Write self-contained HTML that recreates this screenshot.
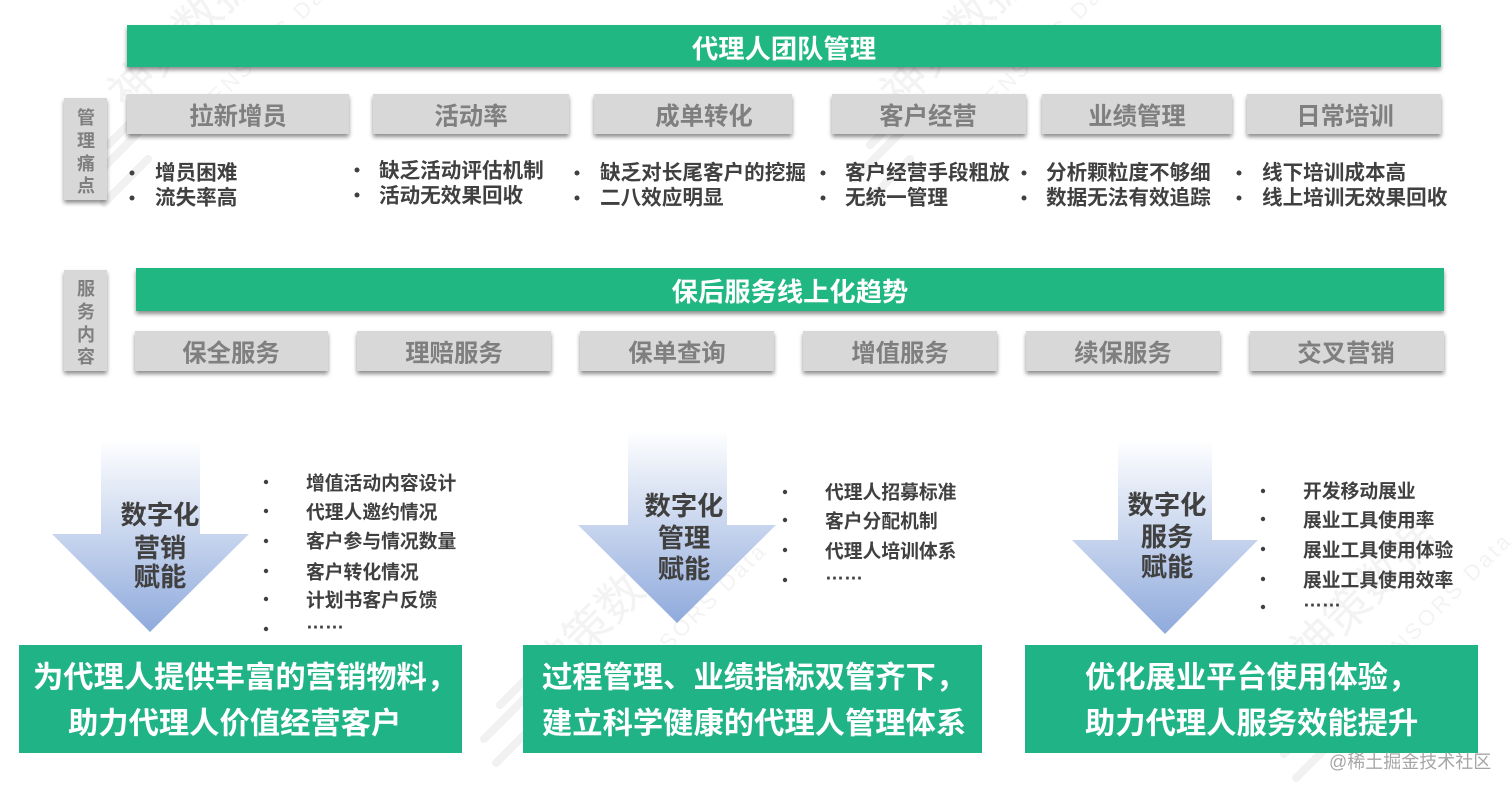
<!DOCTYPE html>
<html lang="zh"><head><meta charset="utf-8">
<style>
html,body{margin:0;padding:0;background:#fff}
svg{display:block}
text{font-family:"Liberation Sans","Noto Sans CJK SC",sans-serif;font-weight:700}
.sh{filter:drop-shadow(0 3px 2px rgba(0,0,0,.45))}
.g{fill:#20b782}
.b{fill:#d8d8d8}
.gt{fill:#7f7f7f;font-size:24.4px;text-anchor:middle;dominant-baseline:central}
.wt{fill:#fff;font-size:26.3px;text-anchor:middle;dominant-baseline:central}
.st{fill:#7f7f7f;font-size:18px;text-anchor:middle;dominant-baseline:central}
.li{fill:#404040;font-size:20.6px;dominant-baseline:central}
.sm{fill:#404040;font-size:18.8px;dominant-baseline:central}
.el{fill:#404040;font-size:19px;dominant-baseline:central}
.ar{fill:#404040;font-size:26.3px;text-anchor:middle;dominant-baseline:central}
.bt{fill:#fff;font-size:30.3px;dominant-baseline:central}
.wm{fill:#f3f3f3;font-size:46px;font-weight:400}
.wm2{fill:#f3f3f3;font-size:22px;font-weight:400;letter-spacing:3px}
</style></head><body>
<svg width="1512" height="795" viewBox="0 0 1512 795" xmlns="http://www.w3.org/2000/svg">
<defs>
<linearGradient id="a1" gradientUnits="userSpaceOnUse" x1="0" y1="440" x2="0" y2="632"><stop offset="0" stop-color="#fff"/><stop offset="1" stop-color="#8faadc"/></linearGradient>
<linearGradient id="a2" gradientUnits="userSpaceOnUse" x1="0" y1="430" x2="0" y2="623"><stop offset="0" stop-color="#fff"/><stop offset="1" stop-color="#8faadc"/></linearGradient>
<linearGradient id="a3" gradientUnits="userSpaceOnUse" x1="0" y1="440" x2="0" y2="634"><stop offset="0" stop-color="#fff"/><stop offset="1" stop-color="#8faadc"/></linearGradient>
<g id="stripes" stroke="#f1f1f1" stroke-width="8" stroke-linecap="round" fill="none">
<path d="M0 0L34 -34M-16 34L44 -26M-4 58L40 14"/>
</g>
</defs>

<!-- watermarks -->
<text class="wm" transform="translate(128,112) rotate(-45)">神策数据</text>
<text class="wm2" transform="translate(205,118) rotate(-45)">SENSORS Data</text>
<use href="#stripes" transform="translate(108,145)"/>
<text class="wm" transform="translate(900,112) rotate(-45)">神策数据</text>
<text class="wm2" transform="translate(982,118) rotate(-45)">SENSORS Data</text>
<use href="#stripes" transform="translate(870,145)"/>
<text class="wm" transform="translate(550,690) rotate(-45)">神策数据</text>
<text class="wm2" transform="translate(630,690) rotate(-45)">SENSORS Data</text>
<use href="#stripes" transform="translate(500,705)"/>
<text class="wm" transform="translate(1310,670) rotate(-45)">神策数据</text>
<text class="wm2" transform="translate(1375,680) rotate(-45)">SENSORS Data</text>
<use href="#stripes" transform="translate(1300,720)"/>

<!-- top bar -->
<rect class="g sh" x="127" y="25" width="1314" height="42"/>
<text class="wt" x="784" y="49">代理人团队管理</text>

<!-- side labels -->
<rect class="b sh" x="64" y="98" width="43" height="102"/>
<text class="st" x="86" y="118">管</text><text class="st" x="86" y="141">理</text><text class="st" x="86" y="164">痛</text><text class="st" x="86" y="186">点</text>
<rect class="b sh" x="64" y="270" width="43" height="101"/>
<text class="st" x="86" y="289">服</text><text class="st" x="86" y="312">务</text><text class="st" x="86" y="335">内</text><text class="st" x="86" y="357">容</text>

<!-- pain point headers -->
<rect class="b sh" x="127" y="94" width="222" height="40"/><text class="gt" x="238" y="117">拉新增员</text>
<rect class="b sh" x="373" y="94" width="196" height="40"/><text class="gt" x="471" y="117">活动率</text>
<rect class="b sh" x="594" y="94" width="198" height="40"/><text class="gt" x="704" y="117">成单转化</text>
<rect class="b sh" x="832" y="94" width="194" height="40"/><text class="gt" x="928" y="117">客户经营</text>
<rect class="b sh" x="1042" y="94" width="190" height="40"/><text class="gt" x="1137" y="117">业绩管理</text>
<rect class="b sh" x="1247" y="94" width="194" height="40"/><text class="gt" x="1345" y="117">日常培训</text>

<!-- pain point bullets -->
<g fill="#404040">
<circle cx="132" cy="173" r="2.5"/><circle cx="132" cy="198" r="2.5"/>
<circle cx="357" cy="170" r="2.5"/><circle cx="357" cy="195" r="2.5"/>
<circle cx="577" cy="173" r="2.5"/><circle cx="577" cy="198" r="2.5"/>
<circle cx="823" cy="173" r="2.5"/><circle cx="823" cy="198" r="2.5"/>
<circle cx="1043" cy="173" r="0"/><circle cx="1043" cy="198" r="0"/>
<circle cx="1024" cy="173" r="2.5"/><circle cx="1024" cy="198" r="2.5"/>
<circle cx="1239" cy="173" r="2.5"/><circle cx="1239" cy="198" r="2.5"/>
</g>
<text class="li" x="155" y="173">增员困难</text><text class="li" x="155" y="198">流失率高</text>
<text class="li" x="379" y="171">缺乏活动评估机制</text><text class="li" x="379" y="196">活动无效果回收</text>
<text class="li" x="600" y="173">缺乏对长尾客户的挖掘</text><text class="li" x="600" y="198">二八效应明显</text>
<text class="li" x="845" y="173">客户经营手段粗放</text><text class="li" x="845" y="198">无统一管理</text>
<text class="li" x="1046" y="173">分析颗粒度不够细</text><text class="li" x="1046" y="198">数据无法有效追踪</text>
<text class="li" x="1262" y="173">线下培训成本高</text><text class="li" x="1262" y="198">线上培训无效果回收</text>

<!-- second bar -->
<rect class="g sh" x="136" y="268" width="1308" height="43"/>
<text class="wt" x="790" y="292">保后服务线上化趋势</text>

<rect class="b sh" x="135" y="331" width="193" height="40"/><text class="gt" x="231" y="354">保全服务</text>
<rect class="b sh" x="357" y="331" width="194" height="40"/><text class="gt" x="454" y="354">理赔服务</text>
<rect class="b sh" x="580" y="331" width="194" height="40"/><text class="gt" x="677" y="354">保单查询</text>
<rect class="b sh" x="803" y="331" width="194" height="40"/><text class="gt" x="900" y="354">增值服务</text>
<rect class="b sh" x="1026" y="331" width="194" height="40"/><text class="gt" x="1123" y="354">续保服务</text>
<rect class="b sh" x="1250" y="331" width="194" height="40"/><text class="gt" x="1346" y="354">交叉营销</text>

<!-- arrows -->
<polygon fill="url(#a1)" points="101,440 200,440 200,534 249,534 150,632 52,534 101,534"/>
<polygon fill="url(#a2)" points="628,430 727,430 727,525 776,525 677,623 578,525 628,525"/>
<polygon fill="url(#a3)" points="1118,440 1212,440 1212,540 1258,540 1165,634 1072,540 1118,540"/>
<text class="ar" x="160" y="515">数字化</text><text class="ar" x="160" y="548">营销</text><text class="ar" x="160" y="577">赋能</text>
<text class="ar" x="684" y="506">数字化</text><text class="ar" x="684" y="538">管理</text><text class="ar" x="684" y="569">赋能</text>
<text class="ar" x="1167" y="505">数字化</text><text class="ar" x="1167" y="537">服务</text><text class="ar" x="1167" y="567">赋能</text>

<!-- lists -->
<g fill="#404040">
<circle cx="266" cy="482" r="2.2"/><circle cx="266" cy="511" r="2.2"/><circle cx="266" cy="541" r="2.2"/><circle cx="266" cy="571" r="2.2"/><circle cx="266" cy="599" r="2.2"/><circle cx="266" cy="629" r="2.2"/>
<circle cx="785" cy="492" r="2.2"/><circle cx="785" cy="520" r="2.2"/><circle cx="785" cy="550" r="2.2"/><circle cx="785" cy="580" r="2.2"/>
<circle cx="1263" cy="491" r="2.2"/><circle cx="1263" cy="519" r="2.2"/><circle cx="1263" cy="549" r="2.2"/><circle cx="1263" cy="579" r="2.2"/><circle cx="1263" cy="607" r="2.2"/>
</g>
<text class="sm" x="306" y="483">增值活动内容设计</text><text class="sm" x="306" y="512">代理人邀约情况</text><text class="sm" x="306" y="541">客户参与情况数量</text><text class="sm" x="306" y="572">客户转化情况</text><text class="sm" x="306" y="600">计划书客户反馈</text><text class="el" x="306" y="623">……</text>
<text class="sm" x="825" y="492">代理人招募标准</text><text class="sm" x="825" y="521">客户分配机制</text><text class="sm" x="825" y="551">代理人培训体系</text><text class="el" x="825" y="574">……</text>
<text class="sm" x="1303" y="491">开发移动展业</text><text class="sm" x="1303" y="520">展业工具使用率</text><text class="sm" x="1303" y="550">展业工具使用体验</text><text class="sm" x="1303" y="580">展业工具使用效率</text><text class="el" x="1303" y="601">……</text>

<!-- bottom boxes -->
<rect x="19" y="645" width="443" height="108" fill="#20b385"/>
<rect x="523" y="645" width="459" height="108" fill="#20b385"/>
<rect x="1025" y="645" width="453" height="108" fill="#20b385"/>
<text class="bt" x="33" y="678">为代理人提供丰富的营销物料，</text>
<text class="bt" x="68" y="724">助力代理人价值经营客户</text>
<text class="bt" x="542" y="678">过程管理、业绩指标双管齐下，</text>
<text class="bt" x="542" y="724">建立科学健康的代理人管理体系</text>
<text class="bt" x="1085" y="678">优化展业平台使用体验，</text>
<text class="bt" x="1085" y="724">助力代理人服务效能提升</text>

<!-- credit -->
<text x="1329" y="768" style="font-size:18px;font-weight:400;fill:#a6a6a6">@稀土掘金技术社区</text>
</svg>
</body></html>
